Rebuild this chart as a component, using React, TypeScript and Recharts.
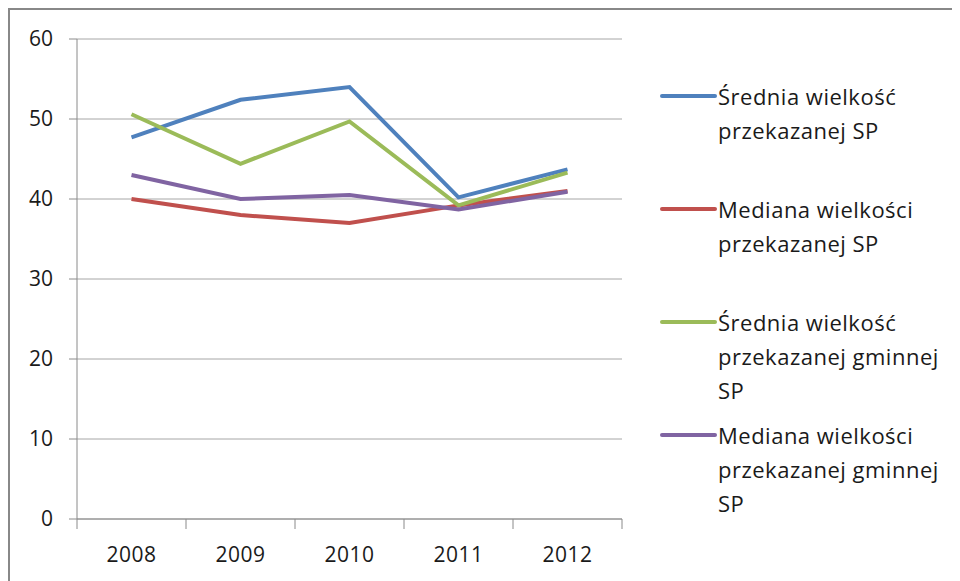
import React from "react";
import { LineChart, Line, XAxis, YAxis, CartesianGrid } from "recharts";

// Lata i wartości serii
const years = ["2008", "2009", "2010", "2011", "2012"];
const sredniaSP = [47.7, 52.4, 54.0, 40.2, 43.7];
const medianaSP = [40.0, 38.0, 37.0, 39.2, 41.0];
const sredniaGminnaSP = [50.6, 44.4, 49.7, 39.2, 43.3];
const medianaGminnaSP = [43.0, 40.0, 40.5, 38.7, 40.9];
const yTicks = [0, 10, 20, 30, 40, 50, 60];

const seriesNames = [
  "Średnia wielkość przekazanej SP",
  "Mediana wielkości przekazanej SP",
  "Średnia wielkość przekazanej gminnej SP",
  "Mediana wielkości przekazanej gminnej SP",
];
const seriesColors = ["#4F81BD", "#C0504D", "#9BBB59", "#8064A2"];
const seriesKeys = ["s1", "s2", "s3", "s4"];
const seriesValues = [sredniaSP, medianaSP, sredniaGminnaSP, medianaGminnaSP];

const data = years.map((year, i) => {
  const row: Record<string, string | number> = { year };
  seriesKeys.forEach((k, j) => {
    row[k] = seriesValues[j][i];
  });
  return row;
});

const FONT = "'Open Sans', sans-serif";
const AXIS_GRAY = "#8a8a8a";
const GRID_GRAY = "#a6a6a6";

// Etykieta osi X wyśrodkowana w kategorii, kreski podziałki na granicach kategorii
const XTick = (props: any) => {
  const { x, y, payload, index, visibleTicksCount } = props;
  const half = payload.offset || 0;
  const axisY = y - 10;
  const isLast = index === visibleTicksCount - 1;
  return (
    <g>
      <line x1={x - half} x2={x - half} y1={axisY} y2={axisY + 10} stroke={AXIS_GRAY} strokeWidth={1} />
      {isLast && (
        <line x1={x + half} x2={x + half} y1={axisY} y2={axisY + 10} stroke={AXIS_GRAY} strokeWidth={1} />
      )}
      <text
        x={x}
        y={axisY + 35}
        textAnchor="middle"
        dominantBaseline="central"
        fontFamily={FONT}
        fontSize={21}
        letterSpacing={0.5}
        fill="#1a1a1a"
      >
        {payload.value}
      </text>
    </g>
  );
};

// Legenda po prawej stronie wykresu
const SeriesLegend = () => (
  <div style={{ position: "absolute", left: 652, top: 71, width: 300 }}>
    {seriesNames.map((name, i) => (
      <div
        key={name}
        style={{ position: "absolute", left: 0, top: i * 113, display: "flex", alignItems: "flex-start" }}
      >
        <svg width={58} height={34} style={{ flex: "none" }}>
          <line x1={2} x2={55} y1={17} y2={17} stroke={seriesColors[i]} strokeWidth={4} strokeLinecap="round" />
        </svg>
        <div
          style={{
            width: 226,
            fontFamily: FONT,
            fontSize: 22,
            letterSpacing: 0.5,
            lineHeight: "34px",
            color: "#1a1a1a",
          }}
        >
          {name}
        </div>
      </div>
    ))}
  </div>
);

export default function App() {
  return (
    <div style={{ position: "relative", width: 952, height: 573, background: "#ffffff" }}>
      <LineChart
        width={952}
        height={573}
        data={data}
        margin={{ top: 31, right: 338, bottom: 12, left: 9 }}
      >
        <CartesianGrid horizontal={true} vertical={false} stroke={GRID_GRAY} strokeWidth={1} />
        <XAxis
          dataKey="year"
          scale="band"
          height={50}
          axisLine={{ stroke: AXIS_GRAY, strokeWidth: 1 }}
          tickLine={false}
          tickSize={10}
          tickMargin={0}
          tick={<XTick />}
          interval={0}
        />
        <YAxis
          width={60}
          domain={[0, 60]}
          ticks={yTicks}
          interval={0}
          axisLine={{ stroke: AXIS_GRAY, strokeWidth: 1 }}
          tickLine={{ stroke: AXIS_GRAY, strokeWidth: 1 }}
          tickSize={8}
          tickMargin={16}
          tick={{ fontFamily: FONT, fontSize: 21, fill: "#1a1a1a" }}
        />
        {seriesKeys.map((k, j) => (
          <Line
            key={k}
            type="linear"
            dataKey={k}
            name={seriesNames[j]}
            stroke={seriesColors[j]}
            strokeWidth={4}
            dot={false}
            activeDot={false}
            isAnimationActive={false}
          />
        ))}
      </LineChart>
      <SeriesLegend />
      <div
        style={{
          position: "absolute",
          left: 0,
          top: 0,
          width: 952,
          height: 573,
          borderTop: "2px solid #888888",
          borderLeft: "2px solid #888888",
          boxSizing: "border-box",
          pointerEvents: "none",
        }}
      />
    </div>
  );
}
